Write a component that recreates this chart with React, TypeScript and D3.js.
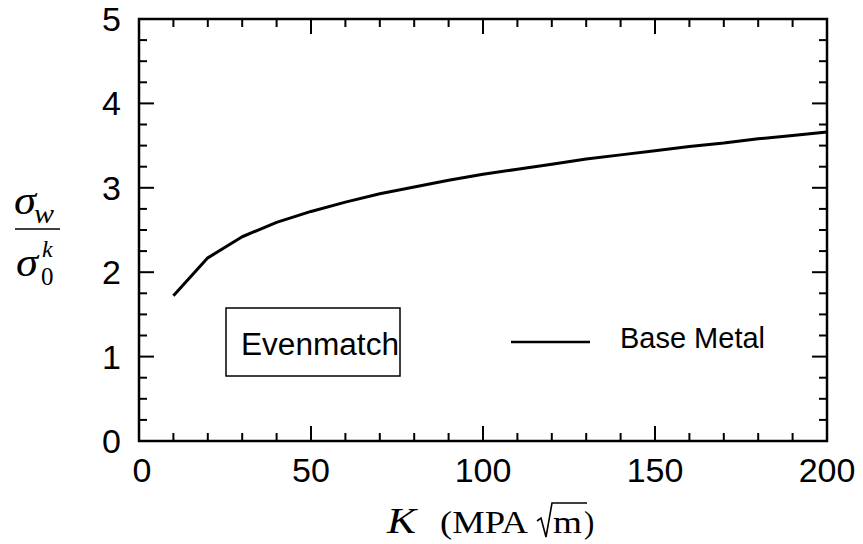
import React from "react";
import * as d3 from "d3";

const kValues = [10, 20, 30, 40, 50, 60, 70, 80, 90, 100, 110, 120, 130, 140, 150, 160, 170, 180, 190, 200];
const ratioValues = [1.72, 2.17, 2.42, 2.59, 2.72, 2.83, 2.93, 3.01, 3.09, 3.16, 3.22, 3.28, 3.34, 3.39, 3.44, 3.49, 3.53, 3.58, 3.62, 3.66];
const xTicks = [0, 50, 100, 150, 200];
const yTicks = [0, 1, 2, 3, 4, 5];
const legendLabel = "Base Metal";
const boxLabel = "Evenmatch";

const W = 863, H = 544;
const L = 139, R = 827, T = 19, B = 441;

export default function App() {
  const x = d3.scaleLinear().domain([0, 200]).range([L, R]);
  const y = d3.scaleLinear().domain([0, 5]).range([B, T]);
  const xMinor = d3.range(0, 201, 10).filter((v) => v % 50 !== 0);
  const yMinor = d3.range(0, 5.001, 0.25).filter((v) => Math.abs(v - Math.round(v)) > 1e-6);
  const line = d3.line<number>().x((_, i) => x(kValues[i])).y((d) => y(d));
  const sans = "'Liberation Sans', Arial, Helvetica, sans-serif";
  const serif = "'Liberation Serif', 'Times New Roman', serif";
  const major = 15, minor = 8;
  return (
    <svg width={W} height={H} style={{ position: "absolute", left: 0, top: 0, background: "#fff" }}>
      <rect x={0} y={0} width={W} height={H} fill="#fff" />
      {/* ticks */}
      <g stroke="#000" strokeWidth={2}>
        {xTicks.map((v) => (
          <g key={"xt" + v}>
            <line x1={x(v)} x2={x(v)} y1={B} y2={B - major} />
            <line x1={x(v)} x2={x(v)} y1={T} y2={T + major} />
          </g>
        ))}
        {xMinor.map((v) => (
          <g key={"xm" + v}>
            <line x1={x(v)} x2={x(v)} y1={B} y2={B - minor} />
            <line x1={x(v)} x2={x(v)} y1={T} y2={T + minor} />
          </g>
        ))}
        {yTicks.map((v) => (
          <g key={"yt" + v}>
            <line x1={L} x2={L + major} y1={y(v)} y2={y(v)} />
            <line x1={R} x2={R - major} y1={y(v)} y2={y(v)} />
          </g>
        ))}
        {yMinor.map((v) => (
          <g key={"ym" + v}>
            <line x1={L} x2={L + minor} y1={y(v)} y2={y(v)} />
            <line x1={R} x2={R - minor} y1={y(v)} y2={y(v)} />
          </g>
        ))}
      </g>
      <rect x={L} y={T} width={R - L} height={B - T} fill="none" stroke="#000" strokeWidth={2.5} />
      {/* tick labels */}
      <g fontFamily={sans} fontSize={34} fill="#000">
        {xTicks.map((v) => (
          <text key={"xl" + v} x={x(v) + (v === 0 ? 3 : 0)} y={482} textAnchor="middle">{v}</text>
        ))}
        {yTicks.map((v) => (
          <text key={"yl" + v} x={121} y={y(v) + 12} textAnchor="end">{v}</text>
        ))}
      </g>
      {/* curve */}
      <path d={line(ratioValues) || ""} fill="none" stroke="#000" strokeWidth={3} strokeLinejoin="round" />
      {/* Evenmatch box */}
      <rect x={226} y={308} width={174} height={68} fill="#fff" stroke="#000" strokeWidth={1.5} />
      <text x={241} y={355} fontFamily={sans} fontSize={31} textLength={158} lengthAdjust="spacingAndGlyphs">{boxLabel}</text>
      {/* legend */}
      <line x1={511} x2={590} y1={342} y2={342} stroke="#000" strokeWidth={2.5} />
      <text x={620} y={348} fontFamily={sans} fontSize={30} textLength={145} lengthAdjust="spacingAndGlyphs">{legendLabel}</text>
      {/* x label */}
      <g fontFamily={serif} fill="#000">
        <text x={387} y={533} fontSize={36} fontStyle="italic" textLength={29} lengthAdjust="spacingAndGlyphs">K</text>
        <text x={440} y={533} fontSize={31} textLength={88} lengthAdjust="spacingAndGlyphs">(MPA</text>
        <path d="M537,521 L541,518 L546,537 L552,503 L587,503" fill="none" stroke="#000" strokeWidth={1.6} strokeLinejoin="miter" />
        <text x={553} y={533} fontSize={31} textLength={29} lengthAdjust="spacingAndGlyphs">m</text>
        <text x={584} y={533} fontSize={31}>)</text>
      </g>
      {/* y label */}
      <g fontFamily={serif} fill="#000" fontStyle="italic">
        <text x={14} y={214} fontSize={40} textLength={22} lengthAdjust="spacingAndGlyphs">σ</text>
        <text x={34} y={223} fontSize={28} textLength={20} lengthAdjust="spacingAndGlyphs">w</text>
        <line x1={15} x2={60} y1={229} y2={229} stroke="#000" strokeWidth={1.5} />
        <text x={16} y={276} fontSize={40} textLength={22} lengthAdjust="spacingAndGlyphs">σ</text>
        <text x={42} y={257} fontSize={24}>k</text>
        <text x={41} y={285} fontSize={25} fontStyle="normal">0</text>
      </g>
    </svg>
  );
}
